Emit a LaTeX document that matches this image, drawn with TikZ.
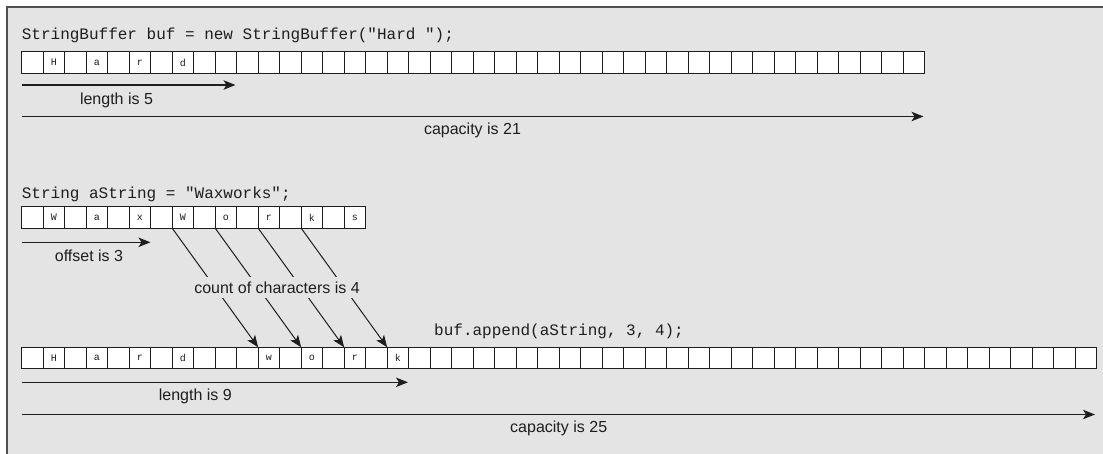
\documentclass[tikz,border=0pt]{standalone}
\usepackage{fontspec}
\setmainfont{Liberation Sans}
\newfontfamily\codefont{Liberation Mono}
\usetikzlibrary{arrows.meta}
\definecolor{bg}{HTML}{E4E4E4}
\definecolor{framecol}{HTML}{505050}
\definecolor{ink}{HTML}{1E1E1E}
\begin{document}
\begin{tikzpicture}[x=1pt,y=-1pt,
  cell/.style={draw=ink, fill=white, line width=1.2pt, minimum size=21.5pt, inner sep=0pt, outer sep=0pt},
  chr/.style={font=\codefont\fontsize{10}{11}\selectfont, text=ink, inner sep=0pt},
  code/.style={font=\codefont\fontsize{16}{18}\selectfont, text=ink, inner sep=0pt, anchor=base west},
  lbl/.style={font=\fontsize{16}{18}\selectfont, text=ink, inner sep=0pt},
  arr/.style={draw=ink, line width=1.2pt, -{Stealth[length=12pt,width=9.5pt,inset=3pt]}},
  slant/.style={draw=ink, line width=1pt, -{Stealth[length=12pt,width=9.5pt,inset=3pt]}}
]
\useasboundingbox (0,0) rectangle (1103,454);
\begin{scope}
  \clip (0,0) rectangle (1103,454);
  \fill[white] (0,0) rectangle (1103,454);
  \draw[draw=framecol, fill=bg, line width=1.5pt] (7,7) rectangle (1130,480);
\end{scope}

% ---------- StringBuffer buf ----------
\node[code] (codeA) at (21.7,39.7) {StringBuffer buf = new StringBuffer("Hard ");};
\foreach \i in {1,...,42}
  \node[cell] (a\i) at ({21.7+(\i-0.5)*21.5},62.45) {};
\foreach \i/\ch in {2/H,4/a,6/r,8/d}
  \node[chr] (ta\i) at (a\i) {\ch};

\coordinate (lenAs) at (21.7,85);
\coordinate (lenAe) at (235.5,85);
\draw[arr] (lenAs) -- (lenAe);
\node[lbl] (lenAl) at (116.5,100) {length is 5};

\coordinate (capAs) at (21.7,116.5);
\coordinate (capAe) at (923.5,116.5);
\draw[arr] (capAs) -- (capAe);
\node[lbl] (capAl) at (472.5,130) {capacity is 21};

% ---------- String aString ----------
\node[code] (codeB) at (21.7,198.3) {String aString = "Waxworks";};
\foreach \i in {1,...,16}
  \node[cell] (b\i) at ({21.7+(\i-0.5)*21.5},217.45) {};
\foreach \i/\ch in {2/W,4/a,6/x,8/W,10/o,12/r,14/k,16/s}
  \node[chr] (tb\i) at (b\i) {\ch};

\coordinate (offs) at (21.7,242.3);
\coordinate (offe) at (150.5,242.3);
\draw[arr] (offs) -- (offe);
\node[lbl] (offl) at (89,255.5) {offset is 3};

% ---------- buf.append ----------
\node[code] (codeC) at (434,335.7) {buf.append(aString, 3, 4);};
\foreach \i in {1,...,50}
  \node[cell] (c\i) at ({21.7+(\i-0.5)*21.5},358.05) {};
\foreach \i/\ch in {2/H,4/a,6/r,8/d,12/w,14/o,16/r,18/k}
  \node[chr] (tc\i) at (c\i) {\ch};

\foreach \s/\t in {8/12,10/14,12/16,14/18}
  \draw[slant] (b\s.south west) -- (c\t.north west);
\node[lbl, fill=bg, inner xsep=2pt, minimum height=21pt] (cnt) at (277,287.5) {count of characters is 4};

\coordinate (lenCs) at (21.7,382.3);
\coordinate (lenCe) at (408,382.3);
\draw[arr] (lenCs) -- (lenCe);
\node[lbl] (lenCl) at (195.3,396.5) {length is 9};

\coordinate (capCs) at (21.7,414.5);
\coordinate (capCe) at (1095,414.5);
\draw[arr] (capCs) -- (capCe);
\node[lbl] (capCl) at (558.7,428) {capacity is 25};
\end{tikzpicture}
\end{document}
